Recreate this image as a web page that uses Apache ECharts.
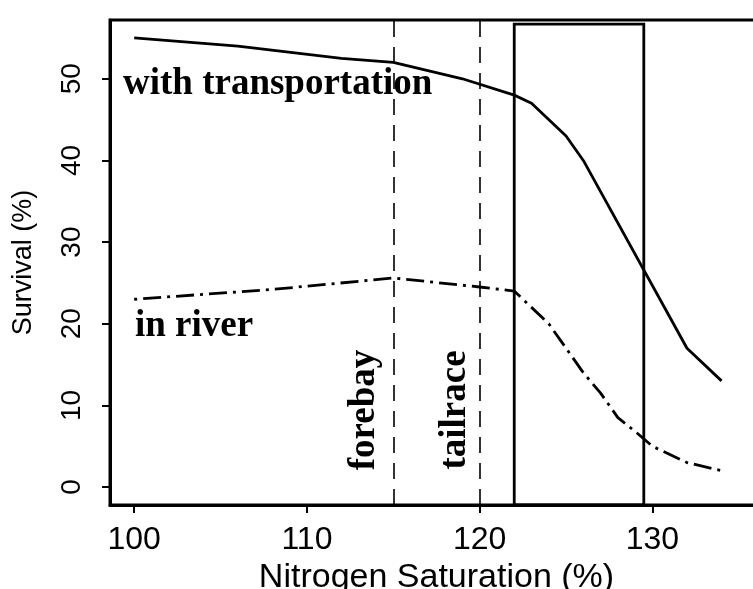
<!DOCTYPE html>
<html>
<head>
<meta charset="utf-8">
<script src="https://cdn.jsdelivr.net/npm/echarts@6/dist/echarts.min.js"></script>
<style>
html,body{margin:0;padding:0;background:#fff;}
#chart{width:753px;height:589px;}
</style>
</head>
<body>
<div id="chart"></div>
<script>
// ---- data ----
const xTicks = [100, 110, 120, 130];
const yTicks = [0, 10, 20, 30, 40, 50];
const transX = [100, 106, 112, 115, 119, 122, 123, 125, 126, 132, 134];
const transY = [55, 54, 52.5, 52, 50, 48, 47, 43, 40, 17, 13];
const riverX = [100, 108, 115, 120, 122, 124, 126, 127, 128, 129, 130, 132, 134];
const riverY = [23, 24.2, 25.6, 24.5, 24, 20, 14, 11.5, 8.5, 6.8, 5, 3, 2];
const refLineX = [115, 120];
const refLineLabels = ['forebay', 'tailrace'];
const boxX = [122, 129.5];
const boxY = [-2.2, 56.7];
const seriesLabels = ['with transportation', 'in river'];
const xName = 'Nitrogen Saturation (%)';
const yName = 'Survival (%)';

const chart = echarts.init(document.getElementById('chart'), null, {renderer: 'canvas'});
const sans = '"Liberation Sans", Arial, sans-serif';
const serifFont = 'bold 37px "Liberation Serif", "Times New Roman", serif';

const option = {
  backgroundColor: '#fff',
  animation: false,
  grid: {
    left: 110, top: 20, width: 653, height: 485,
    show: true, borderColor: '#000', borderWidth: 3,
    containLabel: false, outerBoundsMode: 'none'
  },
  xAxis: {
    type: 'value', min: 98.6, max: 136.4,
    name: xName, nameLocation: 'middle', nameGap: 46,
    nameTextStyle: {fontSize: 34, fontFamily: sans, color: '#000'},
    axisLine: {show: true, onZero: false, lineStyle: {color: '#000', width: 3}},
    axisTick: {show: true, inside: false, length: 8, customValues: xTicks, lineStyle: {color: '#000', width: 2}},
    axisLabel: {show: true, customValues: xTicks, fontSize: 32, fontFamily: sans, color: '#000', margin: 19},
    splitLine: {show: false}
  },
  yAxis: {
    type: 'value', min: -2.2, max: 57.2,
    name: yName, nameLocation: 'middle', nameGap: 73, nameRotate: 90,
    nameTextStyle: {fontSize: 27, fontFamily: sans, color: '#000'},
    axisLine: {show: true, onZero: false, lineStyle: {color: '#000', width: 3}},
    axisTick: {show: true, inside: false, length: 8, customValues: yTicks, lineStyle: {color: '#000', width: 2}},
    axisLabel: {show: true, customValues: yTicks, rotate: 90, fontSize: 28, fontFamily: sans, color: '#000', margin: 24},
    splitLine: {show: false}
  },
  series: [
    {
      name: seriesLabels[0], type: 'line', showSymbol: false, symbol: 'none',
      data: transX.map((x, i) => [x, transY[i]]),
      lineStyle: {color: '#000', width: 2.8},
      markLine: {
        silent: true, symbol: ['none', 'none'],
        label: {show: false},
        lineStyle: {color: '#000', width: 1.6, type: [16, 10]},
        data: refLineX.map(v => ({xAxis: v}))
      }
    },
    {
      name: seriesLabels[1], type: 'line', showSymbol: false, symbol: 'none',
      data: riverX.map((x, i) => [x, riverY[i]]),
      lineStyle: {color: '#000', width: 2.8, type: [3, 6, 18, 6]},
      markArea: {
        silent: true,
        itemStyle: {color: 'rgba(0,0,0,0)', borderColor: '#000', borderWidth: 2.8},
        label: {show: false},
        data: [[{coord: [boxX[0], boxY[0]]}, {coord: [boxX[1], boxY[1]]}]]
      }
    }
  ],
  graphic: [
    {type: 'text', x: 123, y: 84, z: 100,
      style: {text: seriesLabels[0], font: serifFont, fill: '#000', textAlign: 'left', textVerticalAlign: 'middle', align: 'left', verticalAlign: 'middle'}},
    {type: 'text', x: 135, y: 326, z: 100,
      style: {text: seriesLabels[1], font: serifFont, fill: '#000', textAlign: 'left', textVerticalAlign: 'middle', align: 'left', verticalAlign: 'middle'}},
    {type: 'text', x: 364, y: 410, rotation: Math.PI / 2, z: 100,
      style: {text: refLineLabels[0], font: serifFont, fill: '#000', textAlign: 'center', textVerticalAlign: 'middle', align: 'center', verticalAlign: 'middle'}},
    {type: 'text', x: 455, y: 410, rotation: Math.PI / 2, z: 100,
      style: {text: refLineLabels[1], font: serifFont, fill: '#000', textAlign: 'center', textVerticalAlign: 'middle', align: 'center', verticalAlign: 'middle'}}
  ]
};
chart.setOption(option);
</script>
</body>
</html>
